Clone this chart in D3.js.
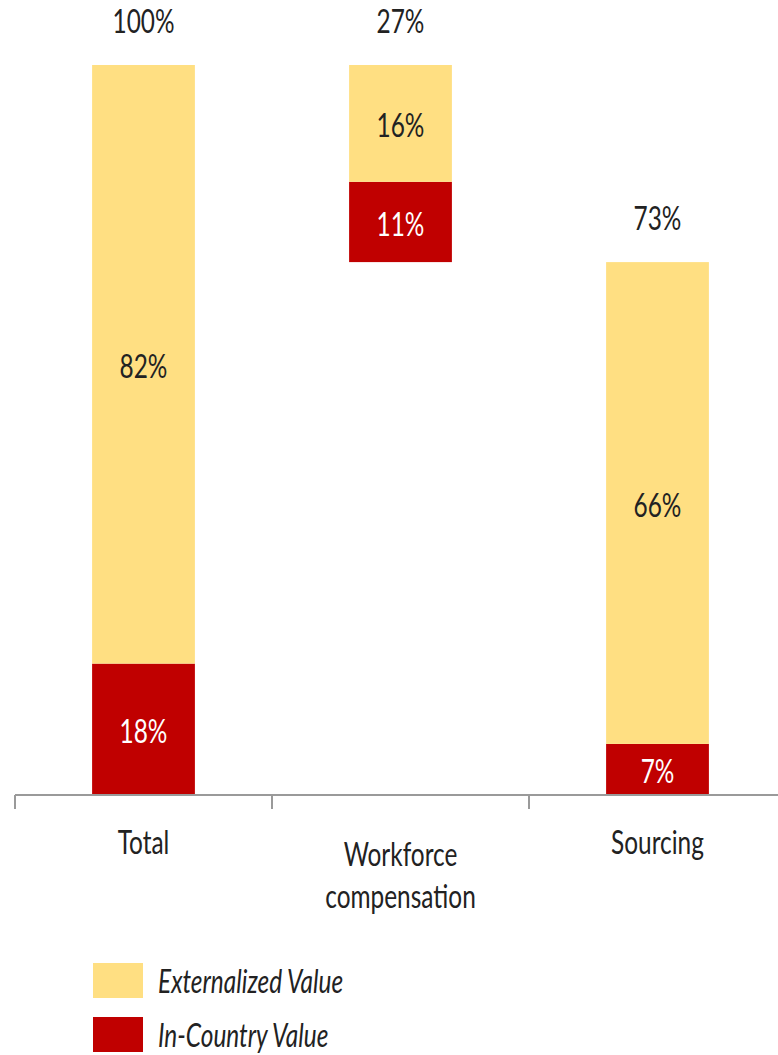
<!DOCTYPE html>
<html>
<head>
<meta charset="utf-8">
<script src="https://cdn.jsdelivr.net/npm/d3@7"></script>
<style>
  body { margin: 0; background: #fff; }
  svg text {
    font-family: Lato, "Open Sans", sans-serif;
    transform-box: fill-box;
    transform-origin: center;
    transform: scaleX(0.74);
  }
  svg text.leg { transform-origin: left; }
</style>
</head>
<body>
<div id="chart"></div>
<script>
// Categories and values (share of total value)
const categories = ["Total", "Workforce compensation", "Sourcing"];
const categoryLines = [["Total"], ["Workforce", "compensation"], ["Sourcing"]];
const inCountry = [0.18, 0.11, 0.07];
const externalized = [0.82, 0.16, 0.66];
const bases = [0, 0.73, 0];
const totals = ["100%", "27%", "73%"];
const legendLabels = ["Externalized Value", "In-Country Value"];

const width = 778, height = 1055;
const yellow = "#FFDF82", red = "#C00000";
const fs = 33;

const svg = d3.select("#chart").append("svg")
  .attr("width", width)
  .attr("height", height);

// Band per category, bars take 40% of each band
const x = d3.scaleBand()
  .domain(categories)
  .range([15, 786])
  .paddingInner(0.6)
  .paddingOuter(0.3);

const y = d3.scaleLinear().domain([0, 1]).range([795, 65]);

// Build stacked segments
const rows = categories.map((c, i) => ({
  cat: c,
  base: bases[i],
  red: inCountry[i],
  yel: externalized[i],
  total: totals[i],
}));

const g = svg.append("g");

// In-country (bottom) segment
g.selectAll("rect.red")
  .data(rows)
  .join("rect")
  .attr("class", "red")
  .attr("x", d => x(d.cat))
  .attr("width", x.bandwidth())
  .attr("y", d => y(d.base + d.red))
  .attr("height", d => y(d.base) - y(d.base + d.red))
  .attr("fill", red);

// Externalized (top) segment
g.selectAll("rect.yel")
  .data(rows)
  .join("rect")
  .attr("class", "yel")
  .attr("x", d => x(d.cat))
  .attr("width", x.bandwidth())
  .attr("y", d => y(d.base + d.red + d.yel))
  .attr("height", d => y(d.base + d.red) - y(d.base + d.red + d.yel))
  .attr("fill", yellow);

const cx = d => x(d.cat) + x.bandwidth() / 2;
const pct = v => Math.round(v * 100) + "%";

// Segment labels
g.selectAll("text.redlab")
  .data(rows)
  .join("text")
  .attr("x", cx)
  .attr("y", d => y(d.base + d.red / 2) + 14)
  .attr("text-anchor", "middle")
  .attr("font-size", fs)
  .attr("fill", "#fff")
  .text(d => pct(d.red));

g.selectAll("text.yellab")
  .data(rows)
  .join("text")
  .attr("x", cx)
  .attr("y", d => y(d.base + d.red + d.yel / 2) + 14)
  .attr("text-anchor", "middle")
  .attr("font-size", fs)
  .attr("fill", "#222")
  .text(d => pct(d.yel));

// Totals above bars
g.selectAll("text.total")
  .data(rows)
  .join("text")
  .attr("x", cx)
  .attr("y", d => y(d.base + d.red + d.yel) - 32)
  .attr("text-anchor", "middle")
  .attr("font-size", fs)
  .attr("fill", "#222")
  .text(d => d.total);

// Axis line with ticks between bands
const axis = svg.append("g").attr("stroke", "#9a9a9a").attr("stroke-width", 2);
axis.append("line")
  .attr("x1", 15).attr("x2", width)
  .attr("y1", y(0)).attr("y2", y(0));
const tickXs = categories.map(c => x(c) - x.step() * x.paddingInner() / 2 - (c === categories[0] ? x.step() * (x.paddingOuter() - x.paddingInner() / 2) : 0));
axis.selectAll("line.tick")
  .data(tickXs)
  .join("line")
  .attr("x1", d => d).attr("x2", d => d)
  .attr("y1", y(0)).attr("y2", y(0) + 14);

// Category labels
categories.forEach((c, i) => {
  const lines = categoryLines[i];
  const y0 = lines.length === 1 ? 854 : 866;
  lines.forEach((t, j) => {
    svg.append("text")
      .attr("x", x(c) + x.bandwidth() / 2)
      .attr("y", y0 + j * 42)
      .attr("text-anchor", "middle")
      .attr("font-size", fs)
      .attr("fill", "#222")
      .text(t);
  });
});

// Legend
const legend = svg.append("g");
legendLabels.forEach((t, i) => {
  const ly = 963 + i * 54;
  legend.append("rect")
    .attr("x", 93).attr("y", ly)
    .attr("width", 50).attr("height", 35)
    .attr("fill", i === 0 ? yellow : red);
  legend.append("text")
    .attr("class", "leg")
    .attr("x", 158).attr("y", ly + 30)
    .attr("font-size", fs)
    .attr("font-style", "italic")
    .attr("fill", "#222")
    .text(t);
});
</script>
</body>
</html>
